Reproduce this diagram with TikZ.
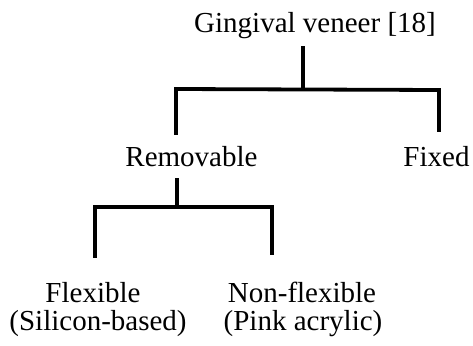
\documentclass[tikz,border=0pt]{standalone}
\usepackage{fontspec}
\setmainfont{Liberation Serif}
\begin{document}
\begin{tikzpicture}[x=1pt,y=-1pt,
  lbl/.style={inner sep=0pt,anchor=base,font=\fontsize{29}{28}\selectfont},
  conn/.style={line width=3.8pt,line cap=rect}]
\useasboundingbox (0,0) rectangle (473,345);
% labels
\node[lbl] (root) at (315,33) {Gingival veneer [18]};
\node[lbl] (rem) at (191.5,166) {Removable};
\node[lbl] (fix) at (436.5,166) {Fixed};
\node[lbl] (flex) at (93,302) {Flexible};
\node[lbl] (flexs) at (98,330) {(Silicon-based)};
\node[lbl] (nflex) at (302,302) {Non-flexible};
\node[lbl] (nflexs) at (303,330) {(Pink acrylic)};
% junction coordinates
\coordinate (r0) at (303,48);
\coordinate (r1) at (303,89);
\coordinate (rl) at (176,89);
\coordinate (rr) at (439,90);
\coordinate (rlb) at (176,133);
\coordinate (rrb) at (439,130);
\coordinate (m0) at (177,180);
\coordinate (m1) at (177,207);
\coordinate (ml) at (95,207);
\coordinate (mr) at (272,207);
\coordinate (mlb) at (95,256);
\coordinate (mrb) at (272,253);
% connectors
\draw[conn] (r0) -- (r1);
\draw[conn] (rlb) -- (rl) -- (rr) -- (rrb);
\draw[conn] (m0) -- (m1);
\draw[conn] (mlb) -- (ml) -- (mr) -- (mrb);
\end{tikzpicture}
\end{document}
